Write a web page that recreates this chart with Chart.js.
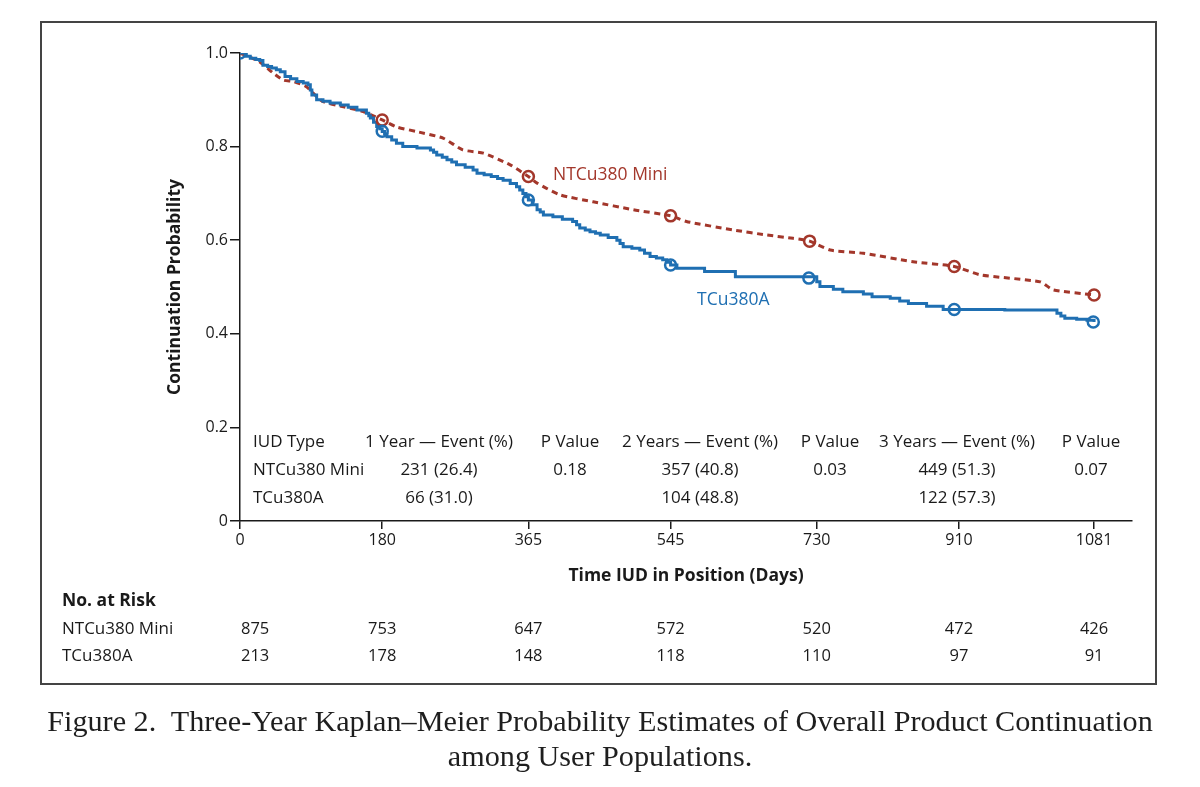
<!DOCTYPE html>
<html>
<head>
<meta charset="utf-8">
<script src="https://cdn.jsdelivr.net/npm/chart.js@4.4.1/dist/chart.umd.min.js"></script>
<style>
  body { margin: 0; background: #fff; width: 1200px; height: 787px; overflow: hidden; position: relative; }
  #frame { position: absolute; left: 40px; top: 21px; width: 1117px; height: 664px; border: 2px solid #444; box-sizing: border-box; }
  #kmChart { position: absolute; left: 0; top: 0; }
  #caption { position: absolute; left: 0; top: 704px; width: 1200px; text-align: center;
             font-family: 'Liberation Serif', 'DejaVu Serif', serif; font-size: 30.2px; line-height: 35px; color: #1e1e1e; }
</style>
</head>
<body>
<div id="frame"></div>
<canvas id="kmChart" width="1200" height="787"></canvas>
<div id="caption">Figure 2.&nbsp; Three-Year Kaplan–Meier Probability Estimates of Overall Product Continuation<br>among User Populations.</div>
<script>
// ticks
var xTicks = [0, 180, 365, 545, 730, 910, 1081];
var yTicks = [0, 0.2, 0.4, 0.6, 0.8, 1.0];

// curves: [day, continuation probability]
var miniCurve = [
  [0, 1.0], [25, 0.981], [42, 0.957], [55, 0.942], [68, 0.939], [84, 0.928], [97, 0.907],
  [105, 0.896], [131, 0.885], [156, 0.875], [180, 0.857], [198, 0.842], [224, 0.832],
  [257, 0.818], [282, 0.793], [308, 0.786], [342, 0.761], [365, 0.736], [376, 0.722],
  [405, 0.697], [447, 0.682], [498, 0.665], [545, 0.652], [565, 0.640], [624, 0.622],
  [667, 0.611], [700, 0.604], [721, 0.598], [747, 0.579], [789, 0.572], [852, 0.554],
  [904, 0.544], [937, 0.526], [1013, 0.511], [1029, 0.494], [1081, 0.483]
];
var tcuCurve = [
  [0, 1.0], [8, 0.993], [13, 0.989], [20, 0.986], [25, 0.984], [29, 0.974], [35, 0.971],
  [40, 0.968], [46, 0.964], [51, 0.960], [57, 0.950], [64, 0.945], [72, 0.939], [80, 0.936],
  [86, 0.932], [89, 0.921], [91, 0.910], [97, 0.900], [105, 0.897], [114, 0.893],
  [127, 0.889], [137, 0.884], [148, 0.878], [160, 0.871], [163, 0.866], [165, 0.861],
  [169, 0.852], [173, 0.843], [177, 0.838], [180, 0.832], [183, 0.827], [186, 0.821],
  [192, 0.814], [198, 0.807], [206, 0.800], [224, 0.797], [241, 0.793], [245, 0.788],
  [249, 0.782], [256, 0.777], [262, 0.772], [268, 0.767], [274, 0.761], [285, 0.756],
  [295, 0.750], [300, 0.743], [309, 0.740], [318, 0.736], [326, 0.732], [333, 0.728],
  [342, 0.721], [350, 0.714], [354, 0.707], [358, 0.700], [362, 0.693], [365, 0.686],
  [370, 0.676], [376, 0.665], [380, 0.660], [384, 0.654], [396, 0.650], [408, 0.645],
  [421, 0.640], [426, 0.633], [430, 0.626], [437, 0.622], [443, 0.618], [450, 0.615],
  [456, 0.611], [466, 0.606], [477, 0.600], [481, 0.593], [485, 0.586], [496, 0.583],
  [506, 0.579], [512, 0.572], [519, 0.565], [527, 0.562], [535, 0.558], [540, 0.553],
  [545, 0.547], [553, 0.540], [588, 0.533], [627, 0.522], [730, 0.511], [734, 0.501],
  [751, 0.495], [763, 0.490], [789, 0.485], [800, 0.479], [823, 0.476], [835, 0.470],
  [846, 0.465], [869, 0.459], [890, 0.452], [968, 0.451], [1034, 0.444], [1039, 0.438],
  [1044, 0.433], [1059, 0.431], [1072, 0.429], [1081, 0.425]
];
// open circles on the curves
var miniMarks = [[180, 0.857], [365, 0.736], [545, 0.652], [721, 0.598], [904, 0.544], [1081, 0.483]];
var tcuMarks = [[0, 1.0], [180, 0.833], [365, 0.686], [545, 0.547], [720, 0.519], [904, 0.452], [1080, 0.425]];

// inset table
var tableHead = ['IUD Type', '1 Year \u2014 Event (%)', 'P Value', '2 Years \u2014 Event (%)', 'P Value', '3 Years \u2014 Event (%)', 'P Value'];
var tableMini = ['NTCu380 Mini', '231 (26.4)', '0.18', '357 (40.8)', '0.03', '449 (51.3)', '0.07'];
var tableTcu = ['TCu380A', '66 (31.0)', '', '104 (48.8)', '', '122 (57.3)', ''];

// number at risk
var riskMini = [875, 753, 647, 572, 520, 472, 426];
var riskTcu = [213, 178, 148, 118, 110, 97, 91];

var RED = '#a3372b';
var BLUE = '#1f6fb2';
var INK = '#1a1a1a';
var SANS = "'Open Sans', 'Noto Sans', sans-serif";

function pts(arr) { return arr.map(function (p) { return { x: p[0], y: p[1] }; }); }

var textPlugin = {
  id: 'kmText',
  afterDraw: function (chart) {
    var ctx = chart.ctx;
    var xs = chart.scales.x;
    ctx.save();
    ctx.textBaseline = 'middle';

    // axis titles
    ctx.fillStyle = INK;
    ctx.font = 'bold 17.5px ' + SANS;
    ctx.textAlign = 'center';
    ctx.fillText('Time IUD in Position (Days)', 686, 576);
    ctx.save();
    ctx.translate(175, 287);
    ctx.rotate(-Math.PI / 2);
    ctx.fillText('Continuation Probability', 0, 0);
    ctx.restore();

    // curve labels
    ctx.font = '17.5px ' + SANS;
    ctx.textAlign = 'left';
    ctx.fillStyle = RED;
    ctx.fillText('NTCu380 Mini', 553, 175);
    ctx.fillStyle = BLUE;
    ctx.fillText('TCu380A', 697, 300);

    // inset table
    ctx.fillStyle = INK;
    ctx.font = '17px ' + SANS;
    var colX = [253, 439, 570, 700, 830, 957, 1091];
    var rowY = [442, 470, 498];
    [tableHead, tableMini, tableTcu].forEach(function (row, r) {
      row.forEach(function (txt, c) {
        ctx.textAlign = c === 0 ? 'left' : 'center';
        ctx.fillText(txt, colX[c], rowY[r]);
      });
    });

    // number at risk
    ctx.font = 'bold 17.5px ' + SANS;
    ctx.textAlign = 'left';
    ctx.fillText('No. at Risk', 62, 601);
    ctx.font = '17px ' + SANS;
    ctx.fillText('NTCu380 Mini', 62, 629);
    ctx.fillText('TCu380A', 62, 656);
    ctx.font = '16.5px ' + SANS;
    xTicks.forEach(function (t, i) {
      var px = xs.getPixelForValue(t);
      ctx.textAlign = i === 0 ? 'left' : 'center';
      ctx.fillText(String(riskMini[i]), i === 0 ? px + 1 : px, 629);
      ctx.fillText(String(riskTcu[i]), i === 0 ? px + 1 : px, 656);
    });
    ctx.restore();
  }
};

new Chart(document.getElementById('kmChart'), {
  type: 'line',
  data: {
    datasets: [
      { label: 'TCu380A marks', data: pts(tcuMarks), showLine: false, pointRadius: 5.5, pointBorderWidth: 2.5,
        pointBorderColor: BLUE, pointBackgroundColor: 'rgba(255,255,255,0)', pointHoverRadius: 5.5 },
      { label: 'NTCu380 Mini marks', data: pts(miniMarks), showLine: false, pointRadius: 5.5, pointBorderWidth: 2.5,
        pointBorderColor: RED, pointBackgroundColor: 'rgba(255,255,255,0)', pointHoverRadius: 5.5 },
      { label: 'TCu380A', data: pts(tcuCurve), stepped: true, borderColor: BLUE, borderWidth: 3,
        pointRadius: 0, fill: false },
      { label: 'NTCu380 Mini', data: pts(miniCurve), borderColor: RED, borderWidth: 3, borderDash: [6, 4.5],
        pointRadius: 0, fill: false, tension: 0.2 }
    ]
  },
  options: {
    responsive: false,
    animation: false,
    devicePixelRatio: 1,
    layout: { padding: { left: 0, top: 53, right: 68, bottom: 226 } },
    plugins: { legend: { display: false }, tooltip: { enabled: false } },
    scales: {
      x: {
        type: 'linear', min: 0, max: 1129,
        afterFit: function (s) { s.height = 40; },
        afterBuildTicks: function (s) { s.ticks = xTicks.map(function (v) { return { value: v }; }); },
        grid: { drawOnChartArea: false, drawTicks: true, tickLength: 8, color: INK, lineWidth: 1.5 },
        border: { color: INK, width: 1.5 },
        ticks: { color: INK, font: { family: SANS, size: 16 }, padding: 2, maxRotation: 0, autoSkip: false,
                 callback: function (v) { return String(v); } }
      },
      y: {
        type: 'linear', min: 0, max: 1,
        afterFit: function (s) { s.width = 240; },
        afterBuildTicks: function (s) { s.ticks = yTicks.map(function (v) { return { value: v }; }); },
        grid: { drawOnChartArea: false, drawTicks: true, tickLength: 10, color: INK, lineWidth: 1.5 },
        border: { color: INK, width: 1.5 },
        ticks: { color: INK, font: { family: SANS, size: 16 }, padding: 2,
                 callback: function (v) { return v === 0 ? '0' : v.toFixed(1); } }
      }
    }
  },
  plugins: [textPlugin]
});
</script>
</body>
</html>
